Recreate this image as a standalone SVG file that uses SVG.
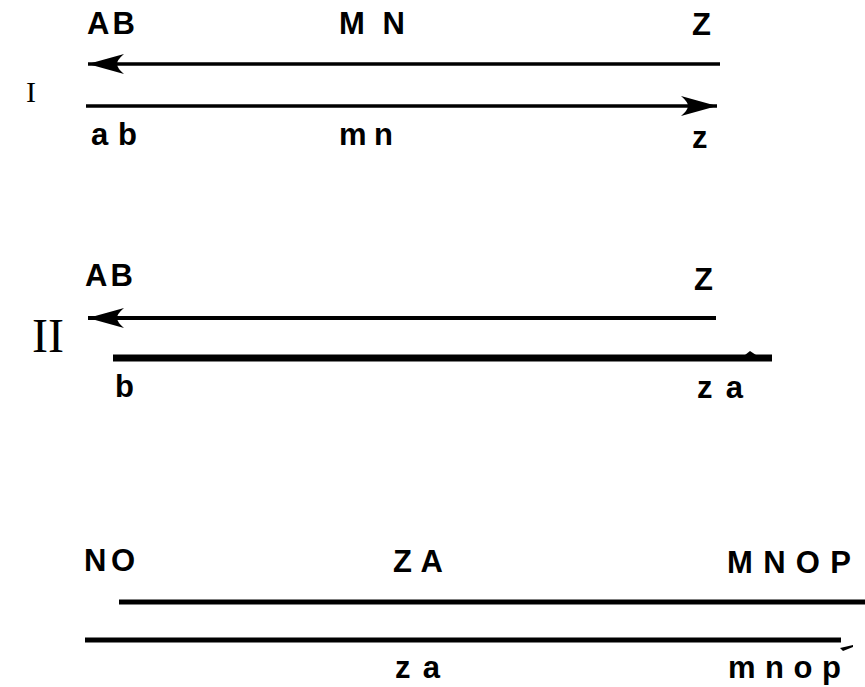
<svg xmlns="http://www.w3.org/2000/svg" width="865" height="687" viewBox="0 0 865 687">
<defs>
<style>
.lbl{font-family:"Liberation Sans",Arial,sans-serif;font-weight:bold;font-size:31px;fill:#000}
.rom{font-family:"Liberation Serif","Times New Roman",serif;fill:#000}
.ln{stroke:#000;fill:none}
</style>
<marker id="head" markerUnits="userSpaceOnUse" viewBox="-38 -12 40 24" refX="0" refY="0" markerWidth="40" markerHeight="24" orient="auto">
<path d="M0,0 L-36,-10 Q-29,-4 -29,0 Q-29,4 -36,10 Z" fill="#000"/>
</marker>
</defs>
<rect width="865" height="687" fill="#fff"/>
<g id="section-I">
<text class="rom" x="26" y="102" font-size="30">I</text>
<g id="I-AB"><text class="lbl" x="87" y="34" textLength="48" lengthAdjust="spacing">AB</text></g>
<g id="I-MN"><text class="lbl" x="339" y="34" textLength="66" lengthAdjust="spacing">MN</text></g>
<g id="I-Z"><text class="lbl" x="692" y="35">Z</text></g>
<g id="I-ab"><text class="lbl" x="91" y="145" textLength="46" lengthAdjust="spacing">ab</text></g>
<g id="I-mn"><text class="lbl" x="339" y="145" textLength="54" lengthAdjust="spacing">mn</text></g>
<g id="I-z"><text class="lbl" x="692" y="148">z</text></g>
</g>
<g id="section-II">
<text class="rom" x="32" y="352" font-size="48">II</text>
<g id="II-AB"><text class="lbl" x="85" y="286" textLength="48" lengthAdjust="spacing">AB</text></g>
<g id="II-Z"><text class="lbl" x="694" y="290">Z</text></g>
<g id="II-b"><text class="lbl" x="115" y="397">b</text></g>
<g id="II-za"><text class="lbl" x="697" y="398" textLength="46" lengthAdjust="spacing">za</text></g>
</g>
<g id="section-III">
<g id="III-NO"><text class="lbl" x="84" y="571" font-size="32" textLength="51" lengthAdjust="spacing">NO</text></g>
<g id="III-ZA"><text class="lbl" x="393" y="572" font-size="32" textLength="50" lengthAdjust="spacing">ZA</text></g>
<g id="III-MNOP"><text class="lbl" x="727" y="573" font-size="32" textLength="124" lengthAdjust="spacing">MNOP</text></g>
<g id="III-za"><text class="lbl" x="395" y="678" textLength="45" lengthAdjust="spacing">za</text></g>
<g id="III-mnop"><text class="lbl" x="728" y="678" textLength="113" lengthAdjust="spacing">mnop</text></g>
</g>
<g id="connectors">
<path class="ln" d="M720,64 H88" stroke-width="3.5" marker-end="url(#head)"/>
<path class="ln" d="M86,106 H717" stroke-width="3.5" marker-end="url(#head)"/>
<path class="ln" d="M716,318 H88" stroke-width="4" marker-end="url(#head)"/>
<path class="ln" d="M113,358 H772" stroke-width="7"/>
<path d="M745,355 L750,351 L756,355 Z" fill="#000"/>
<path class="ln" d="M119,602 H865" stroke-width="5"/>
<path class="ln" d="M85,640 H841" stroke-width="5"/>
<path d="M840,648 L853,645 L853,647 L843,651 Z" fill="#000"/>
</g>
</svg>
